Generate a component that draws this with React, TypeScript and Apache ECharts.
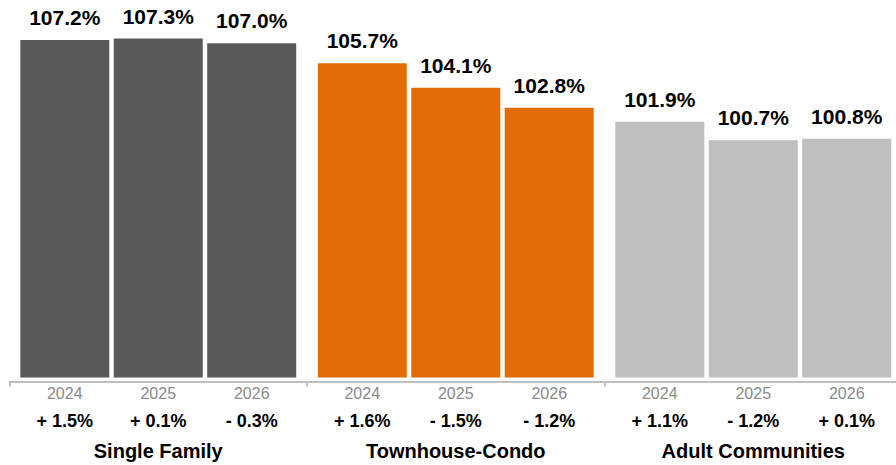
import React, { useEffect, useRef } from "react";
import * as echarts from "echarts";

const categories = ["Single Family", "Townhouse-Condo", "Adult Communities"];
const years = ["2024", "2025", "2026"];
const values2024 = [107.2, 105.7, 101.9];
const values2025 = [107.3, 104.1, 100.7];
const values2026 = [107.0, 102.8, 100.8];
// year-over-year change per category, for 2024, 2025, 2026
const changeSingleFamily = [1.5, 0.1, -0.3];
const changeTownhouse = [1.6, -1.5, -1.2];
const changeAdult = [1.1, -1.2, 0.1];
const groupColors = ["#595959", "#E36C0A", "#BFBFBF"];

const FONT = "'Liberation Sans', Arial, Helvetica, sans-serif";

export default function App() {
  const ref = useRef<HTMLDivElement>(null);
  useEffect(() => {
    if (!ref.current) return;
    const chart = echarts.init(ref.current, null, { renderer: "svg" });
    const seriesValues = [values2024, values2025, values2026];
    const changes = [changeSingleFamily, changeTownhouse, changeAdult];
    const fmtChange = (v: number) => (v < 0 ? "- " : "+ ") + Math.abs(v).toFixed(1) + "%";

    chart.setOption({
      animation: false,
      grid: {
        left: 9.5,
        width: 892.5,
        top: 0,
        bottom: 87.5,
        containLabel: false,
        outerBoundsMode: "none",
      },
      xAxis: {
        type: "category",
        data: categories,
        offset: 4,
        axisLine: { show: true, lineStyle: { color: "#BFBFBF", width: 2 } },
        axisTick: { show: true, length: 5, lineStyle: { color: "#BFBFBF", width: 2 } },
        axisLabel: {
          interval: 0,
          margin: 0,
          hideOverlap: false,
          fontFamily: FONT,
          formatter: (_: string, idx: number) => {
            const yl = years.map((y) => `{y|${y}}`).join("");
            const cl = changes[idx].map((c) => `{c|${fmtChange(c)}}`).join("");
            return `${yl}\n${cl}\n{g|${categories[idx]}}`;
          },
          rich: {
            y: { width: 93.5, align: "center", fontSize: 16, color: "#8A8A8A", lineHeight: 24, fontFamily: FONT },
            c: { width: 93.5, align: "center", fontSize: 18, fontWeight: "bold", color: "#000", lineHeight: 30, fontFamily: FONT },
            g: { fontSize: 20, fontWeight: "bold", color: "#000", lineHeight: 30, fontFamily: FONT },
          },
        },
      },
      yAxis: {
        type: "value",
        min: 85.3,
        max: 109.8,
        show: false,
        splitLine: { show: false },
      },
      series: seriesValues.map((vals, si) => ({
        type: "bar",
        name: years[si],
        barWidth: 89,
        barGap: "5%",
        data: vals.map((v, ci) => ({ value: v, itemStyle: { color: groupColors[ci] } })),
        label: {
          show: true,
          position: "top",
          distance: 12,
          fontFamily: FONT,
          fontSize: 21,
          fontWeight: "bold",
          color: "#000",
          formatter: (p: any) => Number(p.value).toFixed(1) + "%",
        },
      })),
    });
    return () => chart.dispose();
  }, []);
  return (
    <div
      ref={ref}
      style={{ position: "fixed", left: 0, top: 0, width: 896, height: 465, background: "#fff" }}
    />
  );
}
